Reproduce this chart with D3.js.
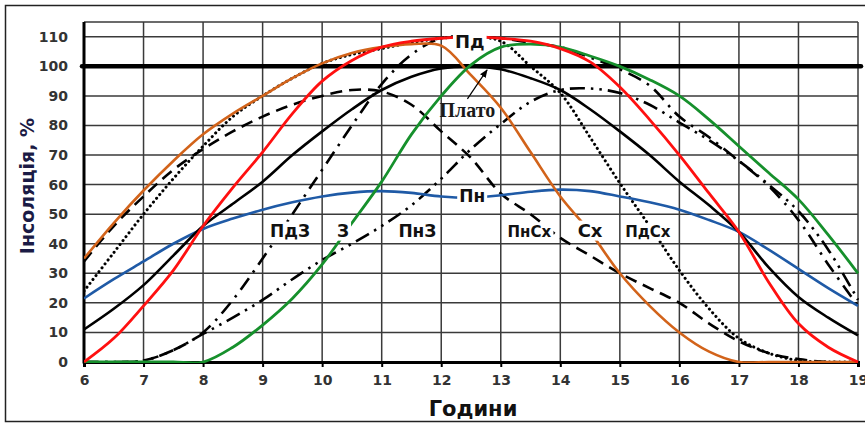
<!DOCTYPE html>
<html>
<head>
<meta charset="utf-8">
<script src="https://cdn.jsdelivr.net/npm/d3@7"></script>
<style>
  body { margin: 0; background: #fff; }
  svg { display: block; }
</style>
</head>
<body>
<svg id="chart"></svg>
<script>
// Hours on a half-hour grid, shared by every curve
const hours = [6, 6.5, 7, 7.5, 8, 8.5, 9, 9.5, 10, 10.5, 11, 11.5, 12, 12.5, 13,
  13.5, 14, 14.5, 15, 15.5, 16, 16.5, 17, 17.5, 18, 18.5, 19];

// Insolation, %
const east = [35, 47, 58, 68, 77, 84, 90, 96, 101, 104.5, 106.5, 107.5, 107, 97, 86,
  71, 56, 44, 30, 19, 10, 3.5, 0, 0, 0, 0, 0];
const south = [0, 8, 19, 31, 46, 59, 71, 84, 95, 102, 106.5, 108.5, 109.5, 110, 109.5,
  108.5, 106, 101.5, 93, 82, 70, 57, 44, 27, 13, 5, 0];
const west = [0, 0, 0, 0, 0, 5, 12.5, 21.5, 33, 47, 61, 77, 90, 100.5, 106.5,
  107.5, 106.5, 103.5, 100, 95.5, 90, 82, 73, 64, 55, 43, 30];
const north = [21.5, 28, 34, 40, 45, 48.5, 51.5, 54, 56, 57.3, 57.8, 57.2, 56, 55.6, 56.4,
  57.6, 58.3, 57.8, 56, 54, 51.5, 48, 44, 38, 31.5, 25, 19];
const plateau = [11, 18, 26, 36, 46, 53.5, 61, 70, 78, 85.5, 92, 96.5, 99.3, 100, 99,
  96, 92, 85.5, 78, 70, 61, 53, 44, 32, 22, 15, 9];
const northEast = [34, 46, 56, 65, 72, 78, 83, 87, 90, 92, 91.5, 87, 78, 69, 57,
  50, 42, 36, 30, 25, 20, 13, 7, 3, 1, 0, 0];
const southEast = [24, 37, 50, 62, 73, 83, 90, 96, 101, 104, 106, 108, 109.5, 110, 108.5,
  100, 91, 76, 60.5, 46, 31, 18, 8, 3, 0.5, 0, 0];
const southWest = [0, 0, 0.5, 4, 10, 21, 35, 50, 65, 80, 94, 104, 109.5, 110, 109.5,
  108, 106.5, 103, 99, 93.5, 83, 76, 68, 59.5, 48, 33, 19];
const northWest = [0, 0, 0.5, 4, 9.5, 15, 21, 28, 34.5, 40, 46, 53, 62, 72, 80.5,
  88, 92, 92.5, 91, 87, 81, 75, 68, 60, 51, 38, 21];

const xTicks = [6, 7, 8, 9, 10, 11, 12, 13, 14, 15, 16, 17, 18, 19];
const yTicks = [0, 10, 20, 30, 40, 50, 60, 70, 80, 90, 100, 110];

// Curve labels
const labelNames = ["Пд", "Пн", "ПдЗ", "З", "ПнЗ", "ПнСх", "Сх", "ПдСх"];
const labelHours = [12.48, 12.52, 9.46, 10.35, 11.6, 13.48, 14.5, 15.47];
const labelValues = [106.2, 54, 42.4, 42.4, 42.4, 42.4, 42.4, 42.4];
const labelSizes = [18, 17, 17, 17, 17, 15, 18, 15];

const series = [
  { values: northWest, color: "#000", width: 2.6, dash: "15,6,2.5,6,2.5,6" },
  { values: southWest, color: "#000", width: 2.6, dash: "14,7,2.5,7" },
  { values: northEast, color: "#000", width: 2.6, dash: "12,7" },
  { values: southEast, color: "#000", width: 3, dash: "0.1,4.8", cap: "round" },
  { values: north, color: "#1f5aa6", width: 2.6 },
  { values: plateau, color: "#000", width: 2.6 },
  { values: east, color: "#d2631a", width: 2.6 },
  { values: west, color: "#16902c", width: 2.8 },
  { values: south, color: "#ff1010", width: 2.8 },
];

const W = 865, H = 423;
const margin = { top: 22, right: 7, bottom: 61, left: 84 };

const svg = d3.select("#chart").attr("width", W).attr("height", H);

// outer frame
svg.append("rect")
  .attr("x", 5.5).attr("y", 5.5)
  .attr("width", W + 20).attr("height", H - 7)
  .attr("fill", "#fff")
  .attr("stroke", "#222").attr("stroke-width", 1.5);

const x = d3.scaleLinear().domain([6, 19]).range([margin.left, W - margin.right]);
const y = d3.scaleLinear().domain([0, 115]).range([H - margin.bottom, margin.top]);

// Grid
const grid = svg.append("g");
grid.selectAll("line.v")
  .data(xTicks.slice(1))
  .join("line")
  .attr("x1", (d) => x(d)).attr("x2", (d) => x(d))
  .attr("y1", y(0)).attr("y2", y(115))
  .attr("stroke", "#3a3a3a").attr("stroke-width", 1.5);
grid.selectAll("line.h")
  .data(yTicks.slice(1).concat([115]))
  .join("line")
  .attr("x1", x(6)).attr("x2", x(19))
  .attr("y1", (d) => y(d)).attr("y2", (d) => y(d))
  .attr("stroke", "#3a3a3a").attr("stroke-width", 1.5);

// X axis
svg.append("g")
  .attr("transform", `translate(0,${y(0)})`)
  .call(d3.axisBottom(x).tickValues(xTicks).tickSize(5).tickPadding(8).tickFormat(d3.format("d")))
  .call((a) => a.select(".domain").attr("stroke", "#000").attr("stroke-width", 3))
  .call((a) => a.selectAll("line").attr("stroke", "#000").attr("stroke-width", 2))
  .call((a) => a.selectAll("text")
    .attr("fill", "#333").attr("font-size", 14).attr("font-weight", "bold")
    .attr("font-family", "DejaVu Sans, sans-serif"));

// Y axis
svg.append("g")
  .attr("transform", `translate(${x(6)},0)`)
  .call(d3.axisLeft(y).tickValues(yTicks).tickSize(0).tickPadding(16))
  .call((a) => a.select(".domain").remove())
  .call((a) => a.selectAll("text")
    .attr("fill", "#333").attr("font-size", 14).attr("font-weight", "bold")
    .attr("font-family", "DejaVu Sans, sans-serif"));
svg.append("line")
  .attr("x1", x(6)).attr("x2", x(6))
  .attr("y1", y(0) + 1.5).attr("y2", y(115))
  .attr("stroke", "#000").attr("stroke-width", 3);

// 100 % reference line
svg.append("line")
  .attr("x1", x(6) - 2).attr("x2", x(19) + 3)
  .attr("y1", y(100)).attr("y2", y(100))
  .attr("stroke", "#000").attr("stroke-width", 4.5)
  .attr("stroke-linecap", "round");

// Curves
svg.append("clipPath").attr("id", "plot")
  .append("rect")
  .attr("x", x(6)).attr("y", y(115))
  .attr("width", x(19) - x(6) + 2).attr("height", y(0) - y(115) + 1);

const line = d3.line()
  .x((d, i) => x(hours[i]))
  .y((d) => y(d))
  .curve(d3.curveCatmullRom.alpha(0.5));

const curves = svg.append("g").attr("clip-path", "url(#plot)");
series.forEach((s) => {
  curves.append("path")
    .attr("d", line(s.values))
    .attr("fill", "none")
    .attr("stroke", s.color)
    .attr("stroke-width", s.width)
    .attr("stroke-dasharray", s.dash || null)
    .attr("stroke-linecap", s.cap || "butt");
});

// Curve labels on white boxes
labelNames.forEach((name, i) => {
  const g = svg.append("g");
  const t = g.append("text")
    .attr("x", x(labelHours[i]))
    .attr("y", y(labelValues[i]))
    .attr("text-anchor", "middle")
    .attr("font-family", "DejaVu Sans, sans-serif")
    .attr("font-weight", "bold")
    .attr("font-size", labelSizes[i])
    .attr("fill", "#111")
    .text(name);
  const b = t.node().getBBox();
  g.insert("rect", "text")
    .attr("x", b.x - 2).attr("y", b.y + 1)
    .attr("width", b.width + 4).attr("height", b.height - 1)
    .attr("fill", "#fff");
});

// "Плато" annotation with arrow
svg.append("defs").append("marker")
  .attr("id", "arrow")
  .attr("viewBox", "0 0 10 10")
  .attr("refX", 9).attr("refY", 5)
  .attr("markerWidth", 7).attr("markerHeight", 7)
  .attr("orient", "auto")
  .append("path").attr("d", "M0,1 L10,5 L0,9 Z").attr("fill", "#000");

svg.append("line")
  .attr("x1", x(12.44)).attr("y1", y(89))
  .attr("x2", x(12.77)).attr("y2", y(98.8))
  .attr("stroke", "#000").attr("stroke-width", 1.2)
  .attr("marker-end", "url(#arrow)");

svg.append("text")
  .attr("x", x(12.44)).attr("y", y(83))
  .attr("text-anchor", "middle")
  .attr("font-family", "Liberation Serif, serif")
  .attr("font-weight", "bold")
  .attr("font-size", 20)
  .attr("fill", "#1a1a1a")
  .text("Плато");

// Axis titles
svg.append("text")
  .attr("x", 473).attr("y", 416)
  .attr("text-anchor", "middle")
  .attr("font-family", "DejaVu Sans, sans-serif")
  .attr("font-weight", "bold")
  .attr("font-size", 21)
  .attr("fill", "#111")
  .text("Години");

svg.append("text")
  .attr("transform", "translate(34,186) rotate(-90)")
  .attr("text-anchor", "middle")
  .attr("font-family", "DejaVu Sans, sans-serif")
  .attr("font-weight", "bold")
  .attr("font-size", 19)
  .attr("fill", "#1b1b45")
  .text("Інсоляція, %");
</script>
</body>
</html>
